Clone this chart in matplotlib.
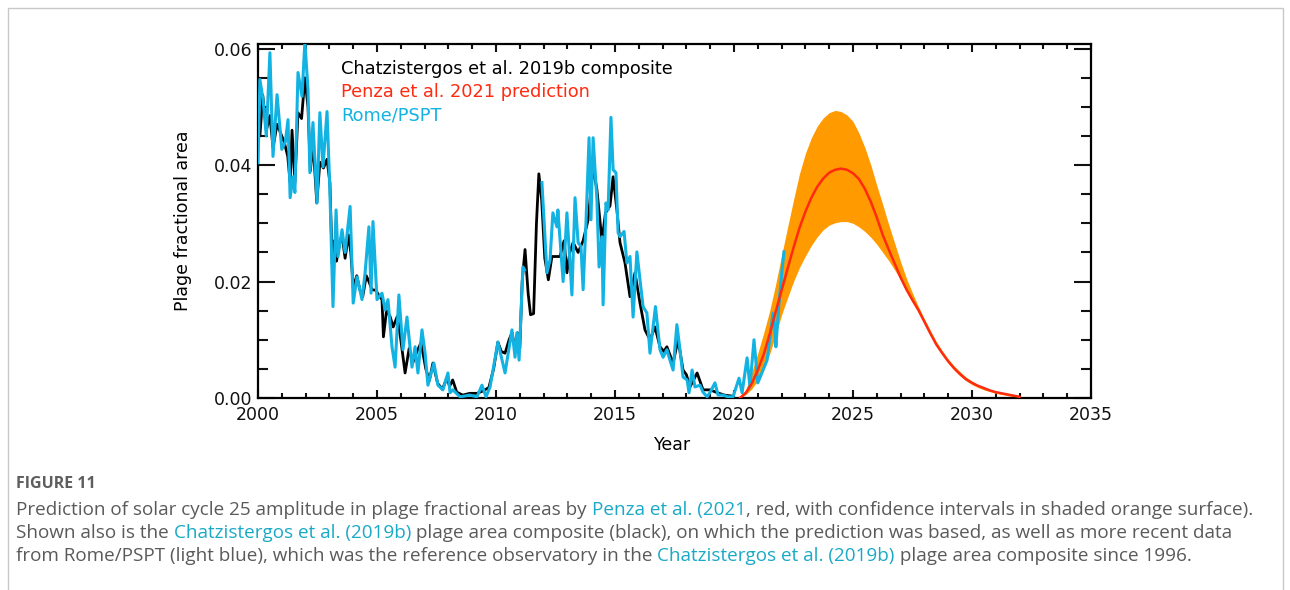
import numpy as np
import matplotlib
matplotlib.use('Agg')
import matplotlib.pyplot as plt
from matplotlib.ticker import MultipleLocator, FormatStrFormatter
from matplotlib.patches import Rectangle
from matplotlib.font_manager import FontProperties

# ---------------- data ----------------
comp_years = [2000.00, 2000.08, 2000.20, 2000.35, 2000.50, 2000.63, 2000.80, 2000.95, 2001.10, 2001.25,
              2001.35, 2001.43, 2001.55, 2001.68, 2001.83, 2001.97, 2002.10, 2002.20, 2002.31, 2002.47,
              2002.60, 2002.75, 2002.90, 2003.02, 2003.12, 2003.20, 2003.30, 2003.42, 2003.53, 2003.66,
              2003.80, 2003.90, 2004.00, 2004.15, 2004.28, 2004.40, 2004.55, 2004.66, 2004.79, 2004.95,
              2005.10, 2005.21, 2005.27, 2005.40, 2005.55, 2005.68, 2005.85, 2006.00, 2006.18, 2006.35,
              2006.50, 2006.68, 2006.85, 2007.05, 2007.20, 2007.35, 2007.55, 2007.75, 2007.94, 2008.05,
              2008.18, 2008.35, 2008.60, 2008.90, 2009.20, 2009.45, 2009.70, 2009.90, 2010.08, 2010.22,
              2010.38, 2010.55, 2010.67, 2010.80, 2010.90, 2011.00, 2011.10, 2011.22, 2011.35, 2011.45,
              2011.58, 2011.70, 2011.80, 2011.92, 2012.05, 2012.20, 2012.35, 2012.50, 2012.69, 2012.86,
              2012.98, 2013.10, 2013.24, 2013.45, 2013.66, 2013.87, 2014.08, 2014.24, 2014.45, 2014.60,
              2014.79, 2014.92, 2015.08, 2015.21, 2015.42, 2015.63, 2015.84, 2016.05, 2016.26, 2016.47,
              2016.68, 2016.89, 2017.05, 2017.18, 2017.44, 2017.65, 2017.86, 2018.00, 2018.15, 2018.45,
              2018.70, 2019.00, 2019.30, 2019.60, 2019.96]
comp_vals = [0.0500, 0.0450, 0.0520, 0.0460, 0.0485, 0.0430, 0.0470, 0.0455, 0.0440, 0.0415,
             0.0370, 0.0460, 0.0370, 0.0490, 0.0480, 0.0550, 0.0500, 0.0390, 0.0440, 0.0335,
             0.0405, 0.0395, 0.0410, 0.0370, 0.0230, 0.0270, 0.0235, 0.0265, 0.0280, 0.0240,
             0.0280, 0.0250, 0.0190, 0.0210, 0.0186, 0.0174, 0.0210, 0.0200, 0.0186, 0.0185,
             0.0175, 0.0169, 0.0105, 0.0150, 0.0140, 0.0122, 0.0140, 0.0100, 0.0043, 0.0085,
             0.0060, 0.0080, 0.0095, 0.0050, 0.0030, 0.0060, 0.0025, 0.0015, 0.0035, 0.0020,
             0.0031, 0.0010, 0.0005, 0.0008, 0.0008, 0.0012, 0.0018, 0.0050, 0.0096, 0.0080,
             0.0077, 0.0100, 0.0112, 0.0085, 0.0112, 0.0085, 0.0200, 0.0255, 0.0180, 0.0143,
             0.0145, 0.0300, 0.0385, 0.0340, 0.0240, 0.0203, 0.0243, 0.0243, 0.0243, 0.0270,
             0.0215, 0.0250, 0.0267, 0.0250, 0.0270, 0.0306, 0.0397, 0.0358, 0.0270, 0.0318,
             0.0330, 0.0380, 0.0323, 0.0267, 0.0232, 0.0174, 0.0215, 0.0163, 0.0117, 0.0100,
             0.0122, 0.0088, 0.0080, 0.0088, 0.0060, 0.0100, 0.0048, 0.0040, 0.0019, 0.0043,
             0.0014, 0.0014, 0.0009, 0.0005, 0.0003]

rome_years = [2000.00, 2000.08, 2000.21, 2000.35, 2000.50, 2000.63, 2000.80, 2001.00, 2001.15, 2001.26,
              2001.35, 2001.47, 2001.55, 2001.68, 2001.85, 2001.97, 2002.10, 2002.18, 2002.31, 2002.48,
              2002.60, 2002.73, 2002.90, 2003.02, 2003.15, 2003.28, 2003.36, 2003.53, 2003.66, 2003.87,
              2004.00, 2004.16, 2004.37, 2004.50, 2004.66, 2004.75, 2004.83, 2005.00, 2005.21, 2005.34,
              2005.46, 2005.63, 2005.76, 2005.92, 2006.09, 2006.26, 2006.47, 2006.60, 2006.72, 2006.89,
              2007.02, 2007.14, 2007.39, 2007.56, 2007.77, 2007.98, 2008.07, 2008.19, 2008.49, 2008.90,
              2009.20, 2009.41, 2009.58, 2009.75, 2010.08, 2010.38, 2010.67, 2010.80, 2010.88, 2010.97,
              2011.13, 2011.20, 2011.50, 2011.93, 2012.14, 2012.27, 2012.39, 2012.56, 2012.60, 2012.82,
              2012.98, 2013.19, 2013.32, 2013.45, 2013.57, 2013.66, 2013.78, 2013.91, 2013.99, 2014.08,
              2014.24, 2014.33, 2014.45, 2014.50, 2014.62, 2014.71, 2014.83, 2014.92, 2015.04, 2015.13,
              2015.21, 2015.38, 2015.50, 2015.63, 2015.76, 2015.92, 2016.05, 2016.18, 2016.34, 2016.47,
              2016.70, 2016.89, 2017.02, 2017.18, 2017.31, 2017.44, 2017.60, 2017.73, 2017.86, 2018.03,
              2018.11, 2018.24, 2018.36, 2018.57, 2018.70, 2018.87, 2019.00, 2019.20, 2019.33, 2019.54,
              2019.75, 2019.96, 2020.21, 2020.34, 2020.55, 2020.67, 2020.84, 2021.00, 2021.22, 2021.39,
              2021.64, 2021.72, 2021.76, 2021.89, 2022.02, 2022.10]
rome_vals = [0.0404, 0.0547, 0.0513, 0.0450, 0.0593, 0.0415, 0.0521, 0.0427, 0.0440, 0.0478,
             0.0344, 0.0380, 0.0353, 0.0559, 0.0518, 0.0612, 0.0530, 0.0387, 0.0473, 0.0335,
             0.0490, 0.0397, 0.0492, 0.0358, 0.0157, 0.0323, 0.0243, 0.0289, 0.0250, 0.0329,
             0.0163, 0.0208, 0.0169, 0.0215, 0.0294, 0.0180, 0.0303, 0.0169, 0.0180, 0.0151,
             0.0169, 0.0088, 0.0053, 0.0177, 0.0083, 0.0139, 0.0053, 0.0088, 0.0043, 0.0117,
             0.0077, 0.0022, 0.0060, 0.0022, 0.0014, 0.0043, 0.0009, 0.0014, 0.0002, 0.0005,
             0.0002, 0.0022, 0.0002, 0.0019, 0.0096, 0.0043, 0.0117, 0.0070, 0.0112, 0.0065,
             0.0225, 0.0220, np.nan, 0.0370, 0.0215, 0.0237, 0.0318, 0.0294, 0.0323, 0.0200,
             0.0318, 0.0177, 0.0344, 0.0267, 0.0260, 0.0186, 0.0301, 0.0447, 0.0306, 0.0447,
             0.0340, 0.0225, 0.0277, 0.0160, 0.0335, 0.0323, 0.0482, 0.0392, 0.0387, 0.0284,
             0.0277, 0.0286, 0.0232, 0.0243, 0.0139, 0.0251, 0.0203, 0.0157, 0.0146, 0.0077,
             0.0157, 0.0083, 0.0070, 0.0083, 0.0065, 0.0048, 0.0126, 0.0083, 0.0036, 0.0031,
             0.0009, 0.0048, 0.0019, 0.0022, 0.0010, 0.0002, 0.0010, 0.0026, 0.0005, 0.0005,
             0.0002, 0.0002, 0.0034, 0.0009, 0.0069, 0.0019, 0.0100, 0.0026, 0.0048, 0.0065,
             0.0146, 0.0117, 0.0088, 0.0163, 0.0220, 0.0251]

pred_years = [2020.25, 2020.50, 2020.75, 2021.00, 2021.25, 2021.50, 2021.75, 2022.00, 2022.25, 2022.50,
              2022.75, 2023.00, 2023.25, 2023.50, 2023.75, 2024.00, 2024.25, 2024.50, 2024.75, 2025.00,
              2025.25, 2025.50, 2025.75, 2026.00, 2026.25, 2026.50, 2026.75, 2027.00, 2027.25, 2027.50,
              2027.75, 2028.00, 2028.25, 2028.50, 2028.75, 2029.00, 2029.25, 2029.50, 2029.75, 2030.00,
              2030.25, 2030.50, 2030.75, 2031.00, 2031.25, 2031.50, 2031.75, 2032.00]
pred_mid = [0.0000, 0.0009, 0.0025, 0.0048, 0.0075, 0.0110, 0.0148, 0.0185, 0.0222, 0.0258,
            0.0292, 0.0320, 0.0344, 0.0363, 0.0377, 0.0387, 0.0392, 0.0394, 0.0392, 0.0386,
            0.0376, 0.0359, 0.0337, 0.0310, 0.0280, 0.0255, 0.0231, 0.0207, 0.0186, 0.0168,
            0.0151, 0.0131, 0.0111, 0.0092, 0.0077, 0.0063, 0.0051, 0.0041, 0.0032, 0.0026,
            0.0021, 0.0017, 0.0013, 0.0010, 0.0008, 0.0006, 0.0004, 0.0002]
pred_high = [0.0000, 0.0015, 0.0045, 0.0077, 0.0112, 0.0150, 0.0195, 0.0245, 0.0293, 0.0340,
             0.0385, 0.0420, 0.0447, 0.0467, 0.0481, 0.0490, 0.0494, 0.0492, 0.0486, 0.0475,
             0.0455, 0.0430, 0.0400, 0.0365, 0.0332, 0.0298, 0.0266, 0.0234, 0.0205, 0.0180,
             0.0157, 0.0136, 0.0116, 0.0097, 0.0081, 0.0067, 0.0055, 0.0045, 0.0036, 0.0029,
             0.0023, 0.0019, 0.0015, 0.0012, 0.0010, 0.0008, 0.0006, 0.0004]
pred_low = [0.0000, 0.0006, 0.0016, 0.0030, 0.0050, 0.0076, 0.0108, 0.0143, 0.0172, 0.0200,
            0.0224, 0.0244, 0.0262, 0.0277, 0.0289, 0.0297, 0.0301, 0.0303, 0.0303, 0.0300,
            0.0294, 0.0286, 0.0276, 0.0264, 0.0250, 0.0236, 0.0220, 0.0203, 0.0183, 0.0164,
            0.0147, 0.0127, 0.0107, 0.0089, 0.0074, 0.0060, 0.0048, 0.0038, 0.0030, 0.0023,
            0.0018, 0.0014, 0.0011, 0.0008, 0.0006, 0.0004, 0.0002, 0.0001]

x_ticks = [2000, 2005, 2010, 2015, 2020, 2025, 2030, 2035]
y_ticks = [0.00, 0.02, 0.04, 0.06]

legend_labels = ["Chatzistergos et al. 2019b composite", "Penza et al. 2021 prediction", "Rome/PSPT"]

# ---------------- styling ----------------
W, H = 1290, 590
C_BLACK = '#000000'
C_CYAN = '#12b2e2'
C_ORANGE = '#ff9a00'
C_RED = '#ff2a10'
C_CAP = '#5a5a5a'
C_LINK = '#1aa9c6'

fig = plt.figure(figsize=(W / 100, H / 100), dpi=100)
fig.patch.set_facecolor('white')

# outer frame of the figure panel
fig.add_artist(Rectangle((8 / W, -0.2), (1283 - 8) / W, (H - 8) / H + 0.2,
                         transform=fig.transFigure, facecolor='none',
                         edgecolor='#c8c8c8', lw=1.0))

ax = fig.add_axes([258 / W, 1 - 398 / H, (1091 - 258) / W, (398 - 44) / H])

ax.fill_between(pred_years, pred_low, pred_high, color=C_ORANGE, lw=0, zorder=2)
ax.plot(comp_years, comp_vals, color=C_BLACK, lw=2.0, zorder=3)
ax.plot(rome_years, rome_vals, color=C_CYAN, lw=2.2, zorder=4)
ax.plot(pred_years, pred_mid, color=C_RED, lw=1.8, zorder=5)

ax.set_xlim(2000, 2035)
ax.set_ylim(0, 0.0608)
ax.set_xticks(x_ticks)
ax.set_xticklabels([str(v) for v in x_ticks])
ax.set_yticks(y_ticks)
ax.yaxis.set_major_formatter(FormatStrFormatter('%.2f'))
ax.xaxis.set_minor_locator(MultipleLocator(1))
ax.yaxis.set_minor_locator(MultipleLocator(0.005))

for s in ax.spines.values():
    s.set_linewidth(1.6)

ax.tick_params(which='both', direction='in', top=True, right=True, width=1.5,
               labelsize=12.5, colors='#111111')
ax.xaxis.set_tick_params(which='major', length=6, pad=6)
ax.xaxis.set_tick_params(which='minor', length=3.5)
ax.yaxis.set_tick_params(which='major', length=12, pad=4)
ax.yaxis.set_tick_params(which='minor', length=7)

ax.set_xlabel('Year', fontsize=12.5)
ax.set_ylabel('Plage fractional area', fontsize=12.5)
ax.xaxis.set_label_coords((673 - 258) / 833, -(436 - 398) / 354)
ax.yaxis.set_label_coords(-(258 - 192) / 833, 0.5)

leg_colors = [C_BLACK, C_RED, C_CYAN]
leg_y = [69, 92, 115]
for lab, col, yy in zip(legend_labels, leg_colors, leg_y):
    ax.text((341 - 258) / 833, (398 - yy) / 354, lab, color=col, fontsize=12.8,
            transform=ax.transAxes, ha='left', va='center')

# ---------------- caption ----------------
cap_family = 'Open Sans'
fig.text(16 / W, 1 - 484 / H, 'FIGURE 11', color='#5e5e5e', fontsize=11.5,
         fontweight='bold', family=cap_family, va='center')

cap_lines = [
    [("Prediction of solar cycle 25 amplitude in plage fractional areas by ", C_CAP),
     ("Penza et al. (2021", C_LINK),
     (", red, with confidence intervals in shaded orange surface).", C_CAP)],
    [("Shown also is the ", C_CAP),
     ("Chatzistergos et al. (2019b)", C_LINK),
     (" plage area composite (black), on which the prediction was based, as well as more recent data", C_CAP)],
    [("from Rome/PSPT (light blue), which was the reference observatory in the ", C_CAP),
     ("Chatzistergos et al. (2019b)", C_LINK),
     (" plage area composite since 1996.", C_CAP)],
]
cap_y = [510, 533, 556]

fig.canvas.draw()
renderer = fig.canvas.get_renderer()

def text_width(s, size):
    fp = FontProperties(family=cap_family, size=size)
    w1, _, _ = renderer.get_text_width_height_descent(s + 'x', fp, ismath=False)
    w2, _, _ = renderer.get_text_width_height_descent('x', fp, ismath=False)
    return w1 - w2

line1 = ''.join(t for t, _ in cap_lines[0])
base = 10.0
target = 1249 - 16
cap_size = base * target / text_width(line1, base)

for segs, yy in zip(cap_lines, cap_y):
    prefix = ''
    for txt, col in segs:
        x0 = 16 + text_width(prefix, cap_size) if prefix else 16
        fig.text(x0 / W, 1 - yy / H, txt, color=col, fontsize=cap_size,
                 family=cap_family, va='center', ha='left')
        prefix += txt

fig.savefig('out.png', dpi=100, facecolor='white')
